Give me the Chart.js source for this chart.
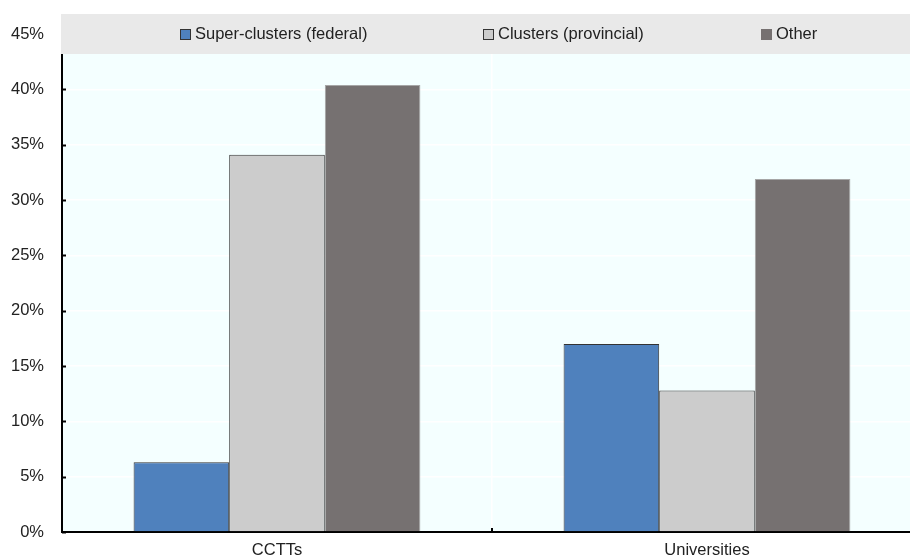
<!DOCTYPE html>
<html>
<head>
<meta charset="utf-8">
<title>Cluster participation</title>
<script src="https://cdn.jsdelivr.net/npm/chart.js@4.4.1/dist/chart.umd.min.js"></script>
<style>
  html, body { margin: 0; padding: 0; background: #ffffff; overflow: hidden; }
  #wrap { width: 922px; height: 560px; }
</style>
</head>
<body>
<div id="wrap"><canvas id="chart" width="922" height="560"></canvas></div>
<script>
// Share of partners by type of institution
const categories = ['CCTTs', 'Universities'];
const seriesNames = ['Super-clusters (federal)', 'Clusters (provincial)', 'Other'];
const superClusters = [6.3, 17.0];
const provincialClusters = [34.1, 12.8];
const other = [40.4, 31.9];

const FONT = '"Liberation Sans", Arial, sans-serif';
const TEXT = '#222222';

// Grey legend strip drawn across the top of the plot, with inward tick marks
const stripPlugin = {
    id: 'strip',
    afterDraw(chart) {
        const ctx = chart.ctx;
        const area = chart.chartArea;
        const y = chart.scales.y;
        const x = chart.scales.x;
        ctx.save();

        // small inward ticks on the value axis
        ctx.strokeStyle = '#000000';
        ctx.lineWidth = 2;
        y.ticks.forEach(t => {
            const py = Math.round(y.getPixelForValue(t.value)) + 0.5;
            ctx.beginPath();
            ctx.moveTo(area.left, py);
            ctx.lineTo(area.left + 4, py);
            ctx.stroke();
        });
        // separator tick between categories
        const sep = Math.round((x.getPixelForValue(0) + x.getPixelForValue(1)) / 2);
        ctx.beginPath();
        ctx.moveTo(sep, area.bottom);
        ctx.lineTo(sep, area.bottom - 4);
        ctx.stroke();

        // legend band
        ctx.fillStyle = '#e9e9e9';
        ctx.fillRect(area.left - 1, 14, 910 - area.left + 1, 40);

        const boxX = [180, 483, 761];
        ctx.font = '16.5px ' + FONT;
        ctx.textBaseline = 'middle';
        ctx.textAlign = 'left';
        chart.data.datasets.forEach((ds, i) => {
            ctx.fillStyle = ds.backgroundColor;
            ctx.fillRect(boxX[i], 29, 11, 11);
            if (i < 2) {
                ctx.strokeStyle = '#333333';
                ctx.lineWidth = 1;
                ctx.strokeRect(boxX[i] + 0.5, 29.5, 10, 10);
            }
            ctx.fillStyle = TEXT;
            ctx.fillText(ds.label, boxX[i] + 15, 34.5);
        });
        ctx.restore();
    }
};

// Pale plot background
const backgroundPlugin = {
    id: 'plotBackground',
    beforeDraw(chart) {
        const { ctx, chartArea } = chart;
        ctx.save();
        ctx.fillStyle = '#f4ffff';
        ctx.fillRect(chartArea.left, chartArea.top, chartArea.right - chartArea.left, chartArea.bottom - chartArea.top);
        ctx.restore();
    }
};

new Chart(document.getElementById('chart'), {
    type: 'bar',
    data: {
        labels: categories,
        datasets: [
            {
                label: seriesNames[0],
                data: superClusters,
                backgroundColor: '#4f81bd',
                borderColor: '#333333',
                borderWidth: 1
            },
            {
                label: seriesNames[1],
                data: provincialClusters,
                backgroundColor: '#cccccc',
                borderColor: '#333333',
                borderWidth: 1
            },
            {
                label: seriesNames[2],
                data: other,
                backgroundColor: '#767171',
                borderColor: '#a6a6a6',
                borderWidth: 1
            }
        ]
    },
    options: {
        responsive: false,
        animation: false,
        layout: { padding: { top: 34, left: 0, right: 0, bottom: 0 } },
        datasets: {
            bar: { categoryPercentage: 0.667, barPercentage: 1.0 }
        },
        plugins: {
            legend: { display: false },
            tooltip: { enabled: false }
        },
        scales: {
            x: {
                offset: true,
                grid: {
                    offset: true,
                    color: '#ffffff',
                    lineWidth: 1.5,
                    drawTicks: false
                },
                border: { color: '#000000', width: 2 },
                ticks: {
                    color: TEXT,
                    font: { family: FONT, size: 16.5 },
                    padding: 8
                },
                afterFit(scale) { scale.height = 26; }
            },
            y: {
                min: 0,
                max: 45,
                grid: {
                    color: '#ffffff',
                    lineWidth: 1.5,
                    drawTicks: false
                },
                border: { color: '#000000', width: 2 },
                ticks: {
                    stepSize: 5,
                    color: TEXT,
                    padding: 18,
                    font: { family: FONT, size: 16.5 },
                    callback: v => v + '%'
                },
                afterFit(scale) { scale.width = 62; }
            }
        }
    },
    plugins: [backgroundPlugin, stripPlugin]
});
</script>
</body>
</html>
